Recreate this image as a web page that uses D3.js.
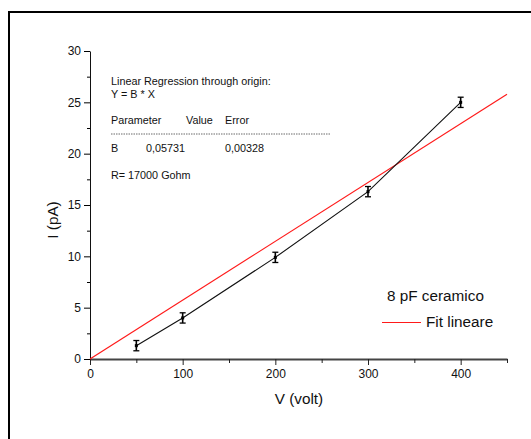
<!DOCTYPE html>
<html>
<head>
<meta charset="utf-8">
<script src="https://cdn.jsdelivr.net/npm/d3@7"></script>
<style>
  body { margin: 0; background: #fff; }
  svg text { font-family: "Liberation Sans", Arial, sans-serif; fill: #111; }
</style>
</head>
<body>
<div id="chart"></div>
<script>
// measured points
const voltages = [50, 100, 200, 300, 400];
const currents = [1.3, 4.0, 9.9, 16.3, 25.0];
const errors = [0.5, 0.5, 0.5, 0.5, 0.5];

// linear fit through origin
const slopeB = 0.05731;
const fitRange = [0, 450];

const xMajor = [0, 100, 200, 300, 400];
const xMinor = [50, 150, 250, 350, 450];
const yMajor = [0, 5, 10, 15, 20, 25, 30];
const yMinor = [2.5, 7.5, 12.5, 17.5, 22.5, 27.5];

const W = 531, H = 439;
const svg = d3.select("#chart").append("svg")
    .attr("width", W)
    .attr("height", H);

// outer frame
svg.append("rect")
    .attr("x", 9).attr("y", 12)
    .attr("width", 540).attr("height", 450)
    .attr("fill", "none")
    .attr("stroke", "#000")
    .attr("stroke-width", 2);

const x = d3.scaleLinear().domain([0, 450]).range([90, 507]);
const y = d3.scaleLinear().domain([0, 30]).range([359, 51]);

// x axis
const gx = svg.append("g").attr("transform", `translate(0,${y(0)})`);
gx.call(d3.axisBottom(x).tickValues(xMajor).tickSize(6).tickPadding(4).tickSizeOuter(0));
gx.select(".domain").attr("stroke", "#444").attr("stroke-width", 2);
gx.selectAll(".tick line").attr("stroke", "#222");
gx.selectAll("text").style("font-size", "12px");

svg.append("g").attr("transform", `translate(0,${y(0)})`)
    .call(d3.axisBottom(x).tickValues(xMinor).tickSize(4).tickFormat("").tickSizeOuter(0))
    .call(g => g.select(".domain").remove())
    .selectAll(".tick line").attr("stroke", "#222");

// y axis
const gy = svg.append("g").attr("transform", `translate(${x(0)},0)`);
gy.call(d3.axisLeft(y).tickValues(yMajor).tickSize(6).tickPadding(3).tickSizeOuter(0));
gy.select(".domain").attr("stroke", "#111");
gy.selectAll("text").style("font-size", "12px");

svg.append("g").attr("transform", `translate(${x(0)},0)`)
    .call(d3.axisLeft(y).tickValues(yMinor).tickSize(3).tickFormat("").tickSizeOuter(0))
    .call(g => g.select(".domain").remove());

// axis titles
svg.append("text")
    .attr("x", 299).attr("y", 404)
    .attr("text-anchor", "middle")
    .style("font-size", "15.3px")
    .text("V (volt)");

svg.append("text")
    .attr("transform", "translate(58,220) rotate(-90)")
    .attr("text-anchor", "middle")
    .style("font-size", "15.3px")
    .text("I (pA)");

// fit line
svg.append("line")
    .attr("x1", x(fitRange[0])).attr("y1", y(slopeB * fitRange[0]))
    .attr("x2", x(fitRange[1])).attr("y2", y(slopeB * fitRange[1]))
    .attr("stroke", "#ff1a1a")
    .attr("stroke-width", 1.2);

// data line
const pts = voltages.map(function(v, i) { return { v: v, c: currents[i], e: errors[i] }; });
svg.append("path")
    .datum(pts)
    .attr("fill", "none")
    .attr("stroke", "#111")
    .attr("stroke-width", 1.1)
    .attr("d", d3.line().x(d => x(d.v)).y(d => y(d.c)));

// error bars
const eb = svg.selectAll(".eb").data(pts).enter().append("g");
eb.append("line")
    .attr("x1", d => x(d.v)).attr("x2", d => x(d.v))
    .attr("y1", d => y(d.c + d.e)).attr("y2", d => y(d.c - d.e))
    .attr("stroke", "#000").attr("stroke-width", 1.6);
eb.append("line")
    .attr("x1", d => x(d.v) - 3).attr("x2", d => x(d.v) + 3)
    .attr("y1", d => y(d.c + d.e)).attr("y2", d => y(d.c + d.e))
    .attr("stroke", "#000").attr("stroke-width", 1.3);
eb.append("line")
    .attr("x1", d => x(d.v) - 3).attr("x2", d => x(d.v) + 3)
    .attr("y1", d => y(d.c - d.e)).attr("y2", d => y(d.c - d.e))
    .attr("stroke", "#000").attr("stroke-width", 1.3);
eb.append("rect")
    .attr("x", d => x(d.v) - 1.5).attr("y", d => y(d.c) - 1.5)
    .attr("width", 3).attr("height", 3)
    .attr("fill", "#000");

// regression info box
const info = svg.append("g").style("font-size", "10.8px");
info.append("text").attr("x", 111).attr("y", 85).text("Linear Regression through origin:");
info.append("text").attr("x", 111).attr("y", 98).text("Y = B * X");
info.append("text").attr("x", 111).attr("y", 124).text("Parameter");
info.append("text").attr("x", 186).attr("y", 124).text("Value");
info.append("text").attr("x", 225).attr("y", 124).text("Error");
info.append("line")
    .attr("x1", 111).attr("x2", 330)
    .attr("y1", 134).attr("y2", 134)
    .attr("stroke", "#444").attr("stroke-width", 0.8)
    .attr("stroke-dasharray", "1.5,1");
info.append("text").attr("x", 111).attr("y", 152).text("B");
info.append("text").attr("x", 146).attr("y", 152).text("0,05731");
info.append("text").attr("x", 225).attr("y", 152).text("0,00328");
info.append("text").attr("x", 111).attr("y", 179).text("R= 17000 Gohm");

// legend
svg.append("text")
    .attr("x", 387).attr("y", 301)
    .style("font-size", "15.3px")
    .text("8 pF ceramico");
svg.append("line")
    .attr("x1", 382).attr("x2", 421)
    .attr("y1", 322.5).attr("y2", 322.5)
    .attr("stroke", "#ff1a1a").attr("stroke-width", 1.2);
svg.append("text")
    .attr("x", 426).attr("y", 327)
    .style("font-size", "15.3px")
    .text("Fit lineare");
</script>
</body>
</html>
